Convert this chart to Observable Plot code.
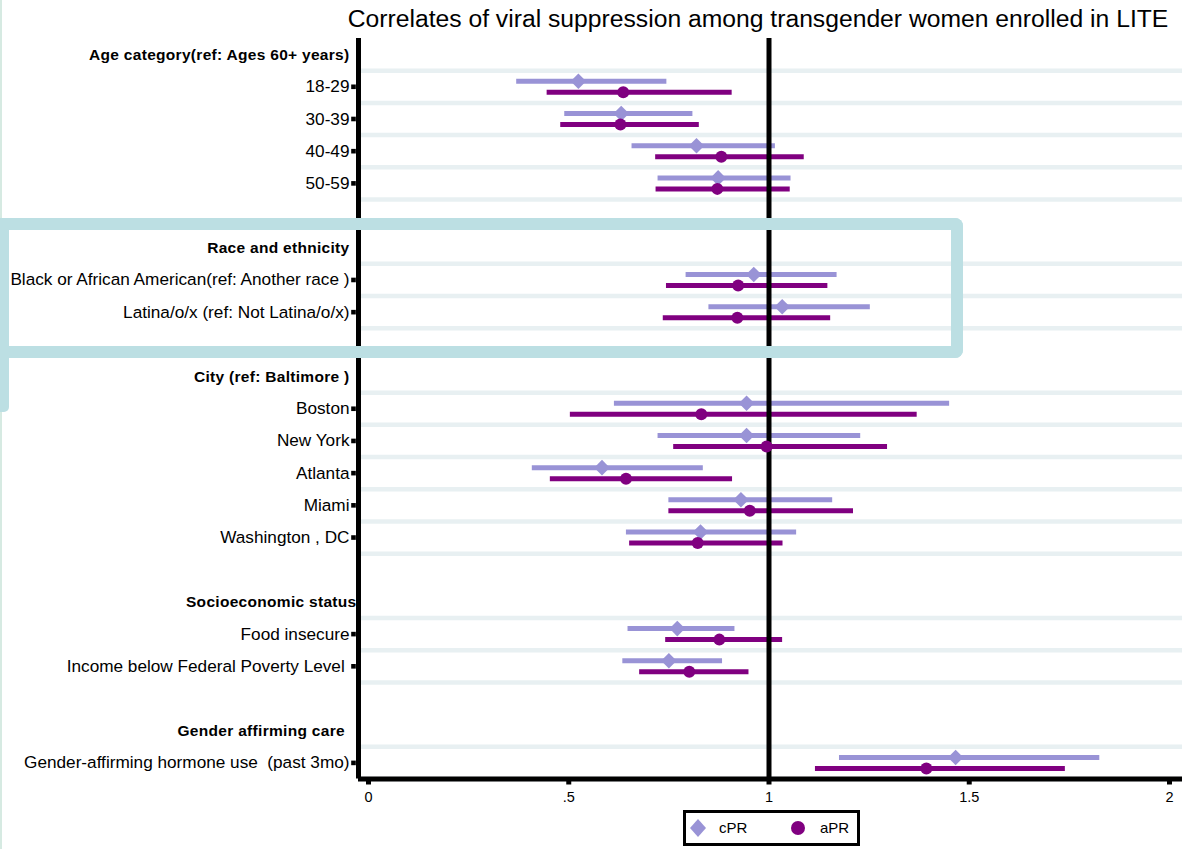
<!DOCTYPE html>
<html>
<head>
<meta charset="utf-8">
<script src="https://cdn.jsdelivr.net/npm/d3@7"></script>
<script src="https://cdn.jsdelivr.net/npm/@observablehq/plot@0.6"></script>
<style>
  html, body { margin: 0; padding: 0; background: #fff; }
  body { width: 1182px; height: 849px; position: relative; overflow: hidden; font-family: "Liberation Sans", Arial, sans-serif; }
  #title { position: absolute; left: 300px; width: 916px; top: 7px; text-align: center; font-size: 24.7px; line-height: 24px; color: #000; white-space: nowrap; }
  #chart { position: absolute; left: 0; top: 38px; }
  #chart svg text { white-space: pre; }
  .hl { position: absolute; box-sizing: border-box; }
  #legend { position: absolute; left: 683px; top: 810px; width: 177px; height: 36px; box-sizing: border-box; border: 3.5px solid #000; background: #fff; font-family: "Liberation Sans Narrow", "Liberation Sans", Arial, sans-serif; font-size: 15px; }
  #legend .it { position: absolute; top: 0; height: 29px; display: flex; align-items: center; }
  #legend svg { display: block; }
</style>
</head>
<body>
<div id="title">Correlates of viral suppression among transgender women enrolled in LITE</div>
<div id="chart"></div>
<div class="hl" style="left:0;top:0;width:2px;height:849px;background:#d6eae2;"></div>
<div class="hl" style="left:0;top:218px;width:963px;height:140px;border:12px solid #bcdfe3;border-left:none;border-radius:0 8px 8px 0;"></div>
<div class="hl" style="left:0;top:218px;width:9px;height:194px;background:#bcdfe3;border-radius:0 0 5px 0;"></div>
<div id="legend"></div>
<script>
// ---- data ----
const rowLabels = [
  "Age category(ref: Ages 60+ years)", "18-29", "30-39", "40-49", "50-59", "",
  "Race and ethnicity", "Black or African American(ref: Another race )", "Latina/o/x (ref: Not Latina/o/x)", "",
  "City (ref: Baltimore )", "Boston", "New York", "Atlanta", "Miami", "Washington , DC", "",
  "Socioeconomic status", "Food insecure", "Income below Federal Poverty Level ", "",
  "Gender affirming care ", "Gender-affirming hormone use  (past 3mo)"
];
const headerLabels = ["Age category(ref: Ages 60+ years)", "Race and ethnicity", "City (ref: Baltimore )", "Socioeconomic status", "Gender affirming care "];

const itemNames = ["18-29", "30-39", "40-49", "50-59",
  "Black or African American(ref: Another race )", "Latina/o/x (ref: Not Latina/o/x)",
  "Boston", "New York", "Atlanta", "Miami", "Washington , DC",
  "Food insecure", "Income below Federal Poverty Level ",
  "Gender-affirming hormone use  (past 3mo)"];
const cprEst = [0.524, 0.631, 0.819, 0.873, 0.962, 1.033, 0.944, 0.944, 0.583, 0.930, 0.829, 0.771, 0.750, 1.466];
const cprLo  = [0.370, 0.490, 0.658, 0.723, 0.793, 0.850, 0.614, 0.723, 0.409, 0.750, 0.644, 0.648, 0.635, 1.176];
const cprHi  = [0.745, 0.810, 1.016, 1.055, 1.170, 1.253, 1.451, 1.229, 0.836, 1.159, 1.069, 0.915, 0.884, 1.826];
const aprEst = [0.636, 0.629, 0.881, 0.871, 0.923, 0.921, 0.831, 0.994, 0.643, 0.952, 0.822, 0.876, 0.801, 1.393];
const aprLo  = [0.446, 0.480, 0.717, 0.718, 0.744, 0.736, 0.504, 0.762, 0.454, 0.750, 0.652, 0.742, 0.677, 1.116];
const aprHi  = [0.908, 0.826, 1.088, 1.053, 1.147, 1.154, 1.370, 1.296, 0.909, 1.211, 1.035, 1.034, 0.950, 1.740];

const xTicks = [0, 0.5, 1, 1.5, 2];
const xTickLabels = ["0", ".5", "1", "1.5", "2"];
const series = ["cPR", "aPR"];

// ---- derived tables ----
const rows = rowLabels.map((label, i) => ({row: i, label, header: headerLabels.includes(label)}));
const headers = rows.filter(d => d.header);
const items = itemNames.map((name, i) => ({
  name, row: rowLabels.indexOf(name),
  cEst: cprEst[i], cLo: cprLo[i], cHi: cprHi[i],
  aEst: aprEst[i], aLo: aprLo[i], aHi: aprHi[i]
}));
const gridRows = rows.filter(d => d.label !== "").map(d => d.row + 0.5);

const cCol = "#9993d6", aCol = "#800080";
const xMin = -0.025, xMax = 2.0325;

const plot = Plot.plot({
  width: 1182, height: 775,
  marginLeft: 358, marginRight: 0, marginTop: 0, marginBottom: 34.5,
  style: {fontFamily: "'Liberation Sans', Arial, sans-serif", background: "transparent", overflow: "visible"},
  x: {domain: [xMin, xMax], axis: null},
  y: {domain: [-0.5, rowLabels.length - 0.5], reverse: true, axis: null},
  marks: [
    Plot.ruleY(gridRows, {stroke: "#e8f0f2", strokeWidth: 4.5}),
    Plot.ruleY(items, {y: "row", x1: "cLo", x2: "cHi", dy: -5.5, stroke: cCol, strokeWidth: 5}),
    Plot.ruleY(items, {y: "row", x1: "aLo", x2: "aHi", dy: 5.5, stroke: aCol, strokeWidth: 5}),
    Plot.ruleX([1], {stroke: "#000", strokeWidth: 5}),
    Plot.ruleX([xMin], {stroke: "#000", strokeWidth: 5}),
    Plot.ruleY([rowLabels.length - 0.5], {stroke: "#000", strokeWidth: 5}),
    Plot.axisX({ticks: xTicks, tickFormat: (d) => xTickLabels[xTicks.indexOf(d)], tickSize: 6, tickPadding: 7, strokeWidth: 5,
      fontSize: 14.5, fontFamily: "'Liberation Sans Narrow', 'Liberation Sans', sans-serif", anchor: "bottom"}),
    Plot.dot(items, {y: "row", frameAnchor: "left", dx: -5, symbol: "square", r: 2.6, fill: "#000"}),
    Plot.text(rows.filter(d => !d.header && d.label !== ""), {y: "row", text: "label", frameAnchor: "left", textAnchor: "end", dx: -9, fontSize: 17.2, fill: "#000"}),
    Plot.text(headers.filter(d => d.label !== "Socioeconomic status"), {y: "row", text: "label", frameAnchor: "left", textAnchor: "end", dx: -9, fontSize: 15.5, fontWeight: "bold", fill: "#000"}),
    Plot.text(headers.filter(d => d.label === "Socioeconomic status"), {y: "row", text: "label", frameAnchor: "left", textAnchor: "end", dx: -2, fontSize: 15.5, fontWeight: "bold", fill: "#000"}),
    Plot.dot(items, {y: "row", x: "cEst", dy: -5.5, symbol: "diamond2", r: 7, fill: cCol}),
    Plot.dot(items, {y: "row", x: "aEst", dy: 5.5, symbol: "circle", r: 6, fill: aCol})
  ]
});
d3.select(plot).selectAll('g[font-weight="bold"] text').attr("letter-spacing", 0.3);
document.getElementById("chart").appendChild(plot);

// ---- legend ----
const lg = document.getElementById("legend");
const sym = {cPR: '<svg width="18" height="20"><path d="M9,1L17,10L9,19L1,10Z" fill="' + cCol + '"/></svg>',
             aPR: '<svg width="16" height="16"><circle cx="8" cy="8" r="7" fill="' + aCol + '"/></svg>'};
const lx = {cPR: 3, aPR: 104};
series.forEach(s => {
  const el = document.createElement("div");
  el.className = "it";
  el.style.left = lx[s] + "px";
  el.innerHTML = sym[s] + '<span style="margin-left:' + (s === "cPR" ? 12 : 14) + 'px">' + s + '</span>';
  lg.appendChild(el);
});
</script>
</body>
</html>
